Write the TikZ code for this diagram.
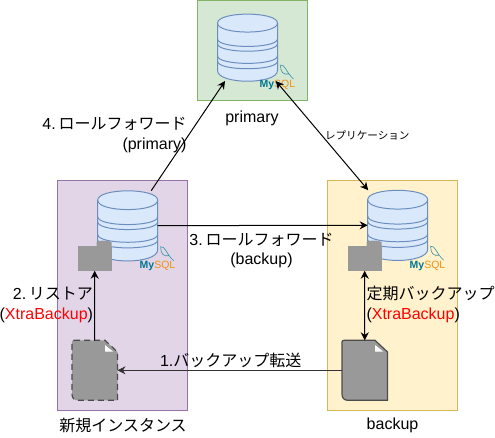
\documentclass[tikz,border=0pt]{standalone}
\usepackage{fontspec}
\setmainfont{Liberation Sans}
\newfontfamily\cjk{Noto Sans CJK JP}
\usetikzlibrary{arrows.meta}
\definecolor{dbfill}{HTML}{DAE8FC}
\definecolor{dbline}{HTML}{6C8EBF}
\definecolor{greenfill}{HTML}{D5E8D4}
\definecolor{greenline}{HTML}{82B366}
\definecolor{purplefill}{HTML}{E1D5E7}
\definecolor{purpleline}{HTML}{9673A6}
\definecolor{yellowfill}{HTML}{FFF2CC}
\definecolor{yellowline}{HTML}{D6B656}
\definecolor{logoteal}{HTML}{00758F}
\definecolor{logoorange}{HTML}{F29111}
\begin{document}
\begin{tikzpicture}[x=1pt, y=-1pt, line width=1pt,
  every node/.style={font=\fontsize{16}{19.5}\selectfont, inner sep=0pt, outer sep=0pt},
  dbnode/.style={minimum width=60pt, anchor=north west},
  foldernode/.style={minimum width=34pt, minimum height=25pt, anchor=north west},
  docnode/.style={minimum width=45.5pt, minimum height=60pt, anchor=north west},
  dbshape/.style={draw=dbline, fill=dbfill},
  docshape/.style={fill=black!40, draw=black!70, line width=1.2pt},
  docdash/.style={dash pattern=on 6pt off 4pt},
  docsolid/.style={solid},
  flow/.style={-{Stealth[length=8pt,width=8pt]}},
  sync/.style={{Stealth[length=8pt,width=8pt]}-{Stealth[length=8pt,width=8pt]}}]
\useasboundingbox (0,0) rectangle (495,437);
% group boxes
\node[draw=greenline, fill=greenfill, anchor=north west, minimum width=110pt, minimum height=100.4pt] (primaryBox) at (197.3,0.3) {};
\node[draw=purpleline, fill=purplefill, anchor=north west, minimum width=130.4pt, minimum height=230pt] (instBox) at (57.3,180.2) {};
\node[draw=yellowline, fill=yellowfill, anchor=north west, minimum width=130.2pt, minimum height=230pt] (backupBox) at (327.3,180.2) {};
% database stacks and logos
\foreach \n/\x/\y/\h/\l in {primary/217.5/14/67/-1, inst/97.7/190.7/70/1, backup/367.7/190.2/70/1} {
  \node[dbnode, minimum height=\h pt] (\n Db) at (\x,\y) {};
  \begin{scope}[shift={(\x,\y)}, yscale=\h/70]
    \draw[dbshape] (0,9.5) .. controls (0,-3) and (60,-3) .. (60,9.5) -- (60,59) .. controls (60,74) and (0,74) .. (0,59) -- cycle;
    \draw[dbline] (0,9.5) .. controls (0,22) and (60,22) .. (60,9.5);
    \foreach \b in {26,31,43.7,49.3} \draw[dbline] (0,\b) .. controls (0,\b+10.5) and (60,\b+10.5) .. (60,\b);
  \end{scope}
  \node[font=\fontsize{10.5}{12}\selectfont, anchor=west] (\n Logo) at (\x+42,\y+\h+\l+4.5) {\textcolor{logoteal}{\bfseries My}\textcolor{logoorange}{SQL}};
  \draw[logoteal!80, line width=0.6pt] (\x+62.5,\y+\h+\l-15) .. controls (\x+68,\y+\h+\l-16) and (\x+68,\y+\h+\l-8) .. (\x+76,\y+\h+\l-1) (\x+63,\y+\h+\l-14) .. controls (\x+63,\y+\h+\l-8) and (\x+66,\y+\h+\l-5) .. (\x+71,\y+\h+\l-6);
}
% folders
\foreach \n/\x in {inst/77.7, backup/347.7} {
  \node[foldernode] (\n Folder) at (\x,245.7) {};
  \fill[black!40] (\x+19,246) -- (\x+19,242) .. controls (\x+20,240) and (\x+31,240) .. (\x+34,242) -- (\x+34,246) -- cycle;
  \fill[black!40] (\x,245.7) rectangle (\x+34,270.7);
}
% dump files
\foreach \n/\x/\s in {inst/72/docdash, backup/342/docsolid} {
  \node[docnode] (\n Doc) at (\x,340.3) {};
  \draw[docshape, \s] (\x+2,340.3) -- (\x+33,340.3) -- (\x+45.5,352) -- (\x+45.5,400.3) -- (\x+6,400.3) .. controls (\x+2,400.3) and (\x,398) .. (\x,394) -- (\x,342) .. controls (\x,341) and (\x+1,340.3) .. (\x+2,340.3) -- cycle;
  \fill[white] (\x+33,345) -- (\x+33,351.7) -- (\x+41.3,351.7) -- cycle;
}
% replication and backup flows
\draw[flow] (instDoc) -- (instFolder);
\draw[flow, black!80] (backupDoc) -- (instDoc);
\draw[flow] (instDb) -- (primaryDb);
\draw[flow] (instDb) -- (backupDb);
\draw[sync] (primaryDb) -- (backupDb);
\draw[sync] (backupDoc) -- (backupFolder);
% labels
\node (primaryLabel) at (252,118) {primary};
\node (instLabel) at (123,425) {\cjk 新規インスタンス};
\node (backupLabel) at (392.5,425.5) {backup};
\node[align=right, anchor=east] (rollPrimary) at (186.5,135) {4.\,{\cjk ロールフォワード}\\(primary)};
\node[align=center] (rollBackup) at (261.5,250.5) {3.\,{\cjk ロールフォワード}\\(backup)};
\node[align=right, anchor=east] (restoreLabel) at (93,305) {2.\,{\cjk リストア}\\(\textcolor{red}{XtraBackup})};
\node[align=left, anchor=west] (periodicLabel) at (366.5,304.5) {\cjk 定期バックアップ\\{\rmfamily(\textcolor{red}{XtraBackup})}};
\node[anchor=west] (transferLabel) at (160,360) {1.{\cjk バックアップ転送}};
\node[font=\fontsize{10.6}{12}\selectfont, anchor=west] (replLabel) at (325,135) {\cjk レプリケーション};
\end{tikzpicture}
\end{document}
